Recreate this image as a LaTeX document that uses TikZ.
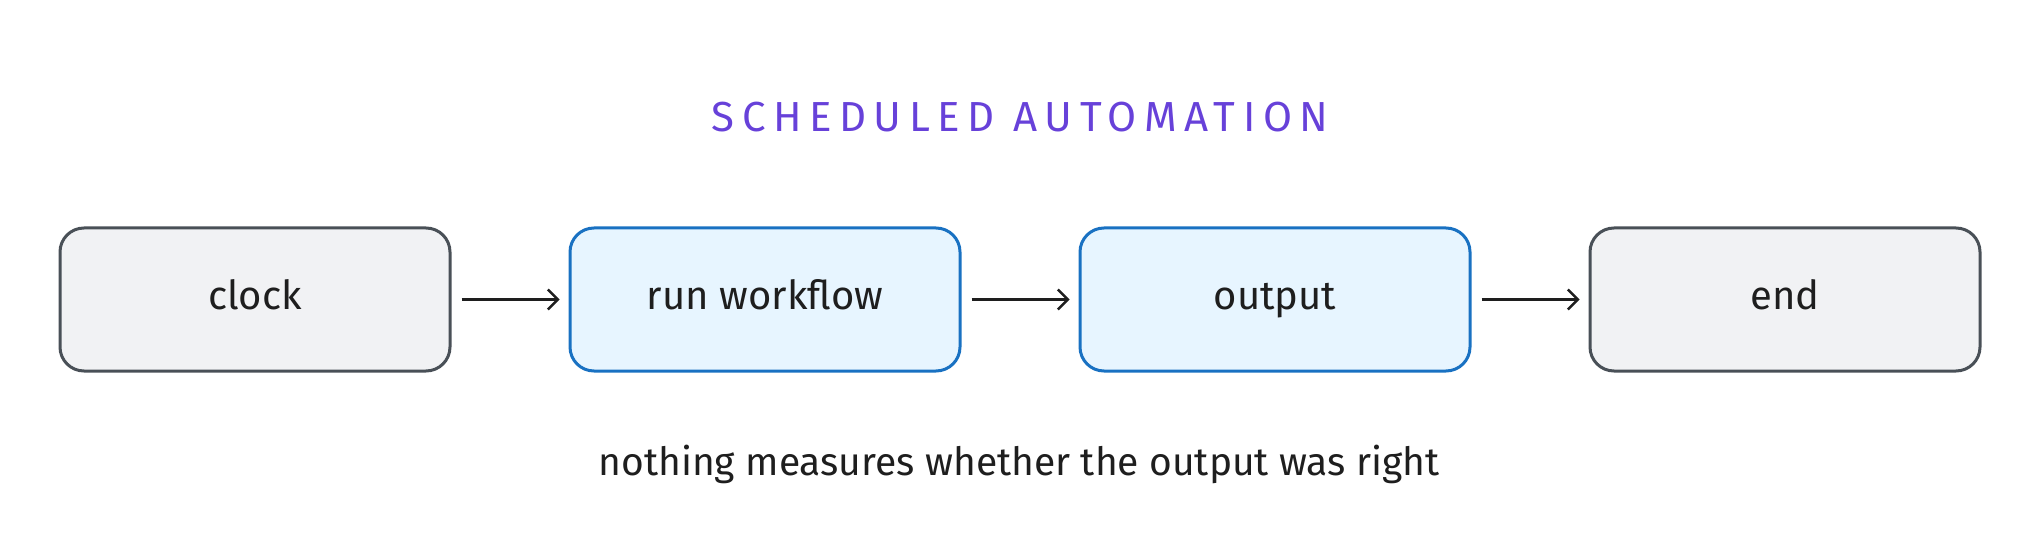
\documentclass[tikz,border=0pt]{standalone}
\usepackage{fontspec}
\setmainfont{Fira Sans}
\usepackage{xcolor}
\usetikzlibrary{calc,positioning,arrows.meta}
\definecolor{color_fill_gray}{HTML}{f1f2f4}
\definecolor{color_line_gray}{HTML}{495057}
\definecolor{color_fill_blue}{HTML}{e7f5ff}
\definecolor{color_line_blue}{HTML}{1971c2}
\definecolor{color_title}{HTML}{6741d9}
\definecolor{color_text}{HTML}{1e1e1e}

\begin{document}
\begin{tikzpicture}[x=0.5pt,y=-0.5pt,
		box/.style={draw, line width=1.5pt, rounded corners=12pt, minimum width=195pt, minimum height=71.5pt, text height=1.9ex, text depth=0ex, font=\fontsize{20}{24}\selectfont, text=color_text},
		graybox/.style={box, draw=color_line_gray, fill=color_fill_gray},
		bluebox/.style={box, draw=color_line_blue, fill=color_fill_blue},
		link/.style={-{Straight Barb[length=5pt,width=10pt]}, line width=1.2pt, color_text, shorten <=5pt, shorten >=4.5pt}]
				\useasboundingbox (0, 0) rectangle (2040, 534);
				%\draw (0, 0) rectangle (2040, 534);
				% Title
				\node[font=\fontsize{21}{25}\selectfont\addfontfeature{LetterSpace=18}, text=color_title] (title) at (1020, 117) {SCHEDULED AUTOMATION};
		
				% Boxes
				\node[graybox] (clock) at (255, 299.5) {clock};
				\node[bluebox, right=58.5pt of clock] (run) {run workflow};
				\node[bluebox, right=58.5pt of run] (output) {output};
				\node[graybox, right=58.5pt of output] (end) {end};
				
				% Arrows
				\draw[link] (clock) -- (run);
				\draw[link] (run) -- (output);
				\draw[link] (output) -- (end);
				
				% Note
				\node[font=\fontsize{19.5}{23}\selectfont, text=color_text] (note) at (1019, 464) {nothing measures whether the output was right};
			\end{tikzpicture}
\end{document}
